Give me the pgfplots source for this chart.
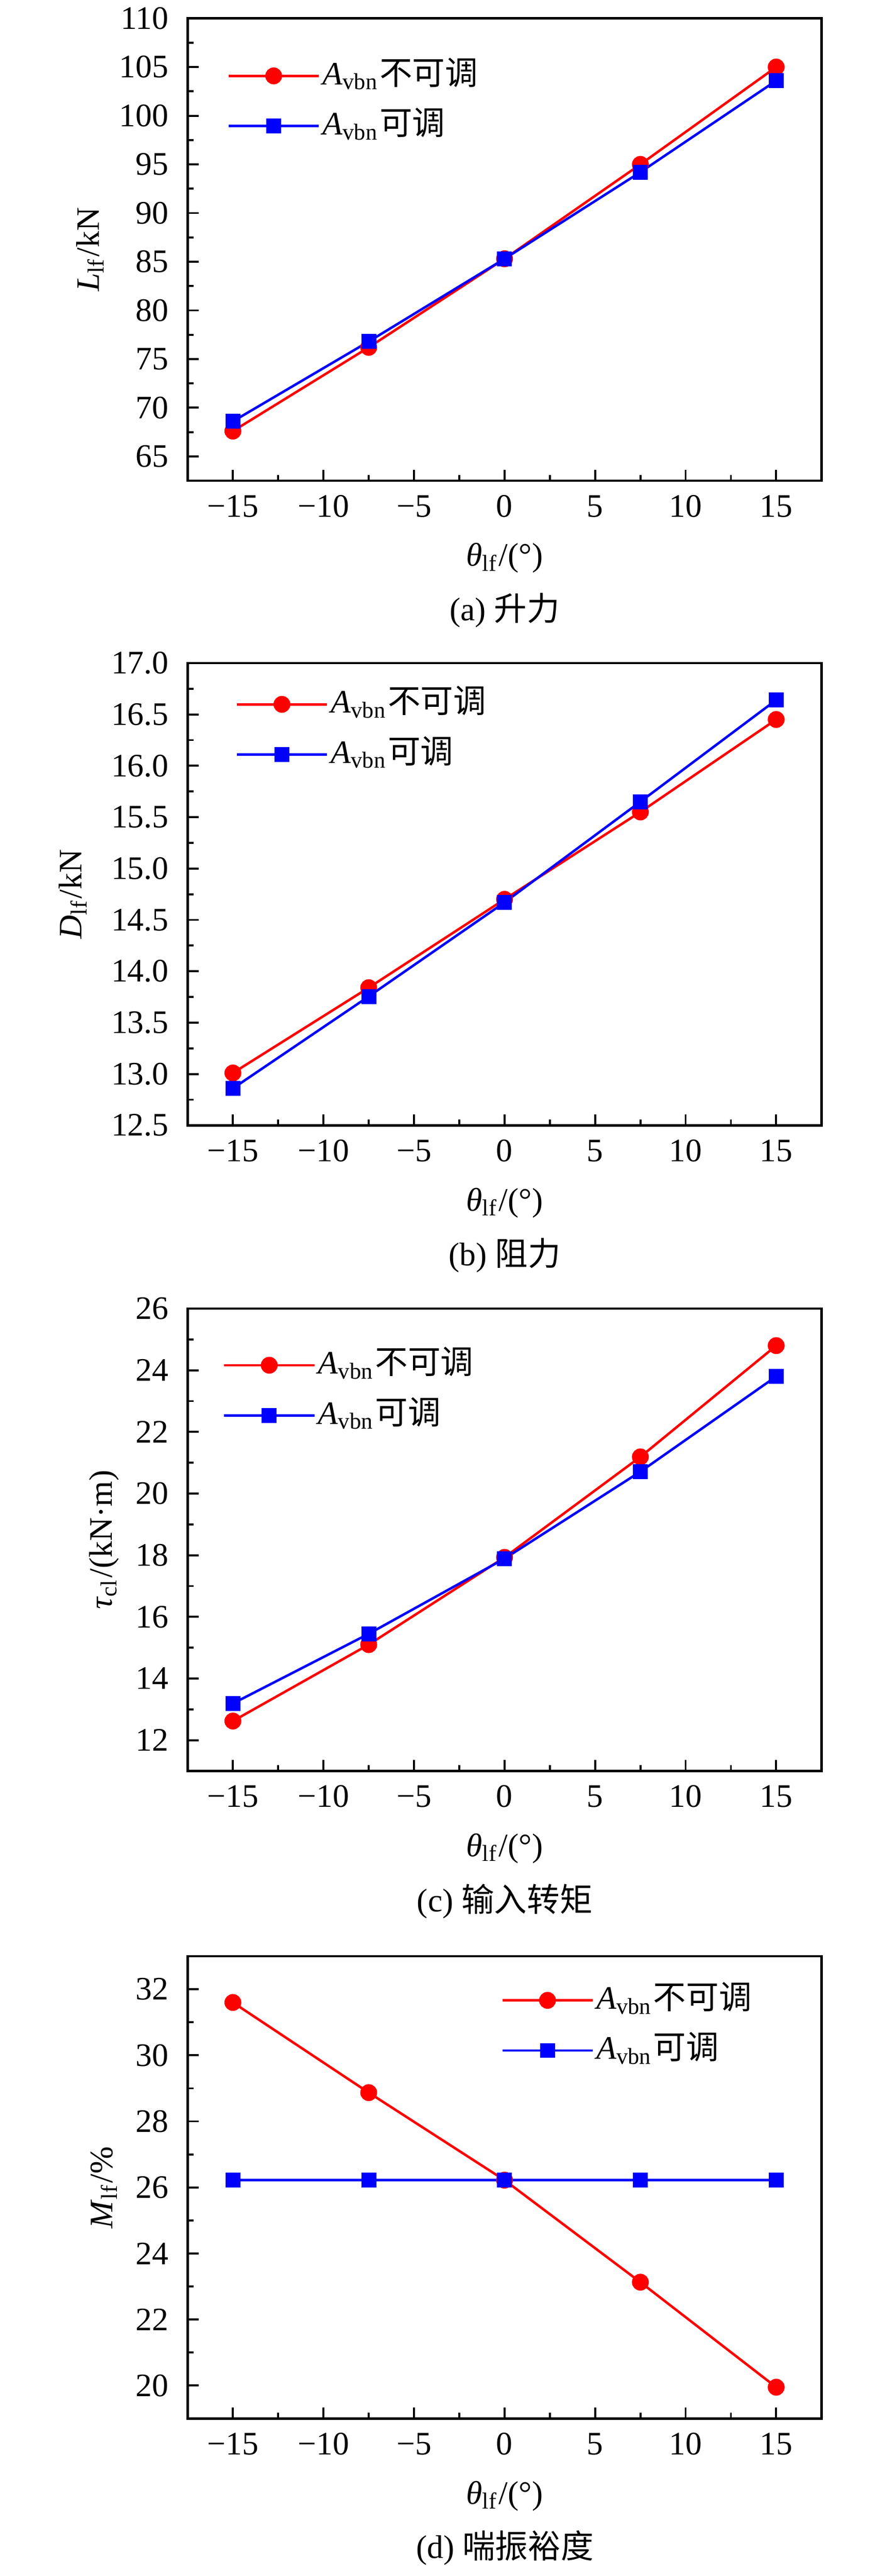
\documentclass[border=0pt]{standalone}
\usepackage{pgfplots}
\pgfplotsset{compat=1.18}
\usepackage{fontspec}
\setmainfont{Liberation Serif}
\newfontfamily\cjk{Noto Sans CJK SC}
\newcommand{\fs}{\fontsize{6.6}{7.9}\selectfont}
\definecolor{myred}{RGB}{255,0,0}
\definecolor{myblue}{RGB}{0,0,255}
\pgfplotsset{
  myaxis/.style={
    scale only axis, width=127.7pt, height=93.1pt,
    anchor=north west,
    xmin=-17.5, xmax=17.5,
    xtick={-15,-10,-5,0,5,10,15},
    xticklabels={−15,−10,−5,0,5,10,15},
    minor x tick num=1, minor y tick num=1,
    tick pos=left, tick align=inside,
    major tick length=2.2pt, minor tick length=1.2pt,
    axis line style={line width=0.45pt},
    every tick/.style={black, line width=0.4pt},
    /pgf/number format/assume math mode=true,
    tick label style={font=\fs},
    xticklabel style={anchor=base, yshift=-7.3pt},
    yticklabel style={xshift=-0.3pt},
    label style={font=\fs},
    xlabel={\textit{θ}\textsubscript{lf}/(°)},
    xlabel style={at={(axis description cs:0.5,0)}, anchor=base, yshift=-17.2pt},
    legend cell align=left,
    legend image code/.code={
      \draw[mark repeat=2,mark phase=2,##1] plot coordinates {(0pt,0pt) (9.1pt,0pt) (18.2pt,0pt)};
    },
    legend style={draw=none, fill=none, inner sep=0pt, row sep=2.6pt,
      anchor=north west,
      nodes={inner sep=0.5pt, text height=5pt, text depth=1.5pt, font=\fs}},
  },
  redline/.style={color=myred, line width=0.5pt, mark=*, mark size=1.45pt, mark options={solid, fill=myred, draw=myred}},
  blueline/.style={color=myblue, line width=0.5pt, mark=square*, mark size=1.25pt, mark options={solid, fill=myblue, draw=myblue}},
}
\begin{document}
\begin{tikzpicture}
\useasboundingbox (0,0) rectangle (177.2pt,-518.7pt);
% (a)
\begin{axis}[myaxis, at={(37.8pt,-3.7pt)},
  ymin=62.5, ymax=110, ytick={65,70,...,110},
  ylabel={\textit{L}\textsubscript{lf}/kN},
  ylabel style={at={(axis description cs:-0.154,0.5)}, anchor=center},
  legend style={at={(axis description cs:0.061,0.918)}}]
\addplot[redline] coordinates {(-15,67.6) (-7.5,76.2) (0,85.3) (7.5,95.0) (15,105.0)};
\addlegendentry{\textit{A}\textsubscript{vbn}{\cjk 不可调}}
\addplot[blueline] coordinates {(-15,68.6) (-7.5,76.8) (0,85.3) (7.5,94.2) (15,103.6)};
\addlegendentry{\textit{A}\textsubscript{vbn}{\cjk 可调}}
\end{axis}
% (b)
\begin{axis}[myaxis, at={(37.8pt,-133.5pt)},
  ymin=12.5, ymax=17, ytick={12.5,13,13.5,14,14.5,15,15.5,16,16.5,17},
  yticklabels={12.5,13.0,13.5,14.0,14.5,15.0,15.5,16.0,16.5,17.0},
  ylabel={\textit{D}\textsubscript{lf}/kN},
  ylabel style={at={(axis description cs:-0.181,0.5)}, anchor=center},
  legend style={at={(axis description cs:0.074,0.953)}}]
\addplot[redline] coordinates {(-15,13.01) (-7.5,13.84) (0,14.70) (7.5,15.55) (15,16.45)};
\addlegendentry{\textit{A}\textsubscript{vbn}{\cjk 不可调}}
\addplot[blueline] coordinates {(-15,12.86) (-7.5,13.755) (0,14.67) (7.5,15.65) (15,16.64)};
\addlegendentry{\textit{A}\textsubscript{vbn}{\cjk 可调}}
\end{axis}
% (c)
\begin{axis}[myaxis, at={(37.8pt,-263.5pt)},
  ymin=11, ymax=26, ytick={12,14,...,26},
  ylabel={\textit{τ}\textsubscript{cl}/(kN·m)},
  ylabel style={at={(axis description cs:-0.132,0.5)}, anchor=center},
  legend style={at={(axis description cs:0.054,0.92)}}]
\addplot[redline] coordinates {(-15,12.62) (-7.5,15.1) (0,17.93) (7.5,21.19) (15,24.8)};
\addlegendentry{\textit{A}\textsubscript{vbn}{\cjk 不可调}}
\addplot[blueline] coordinates {(-15,13.19) (-7.5,15.45) (0,17.89) (7.5,20.71) (15,23.8)};
\addlegendentry{\textit{A}\textsubscript{vbn}{\cjk 可调}}
\end{axis}
% (d)
\begin{axis}[myaxis, at={(37.8pt,-393.9pt)},
  ymin=19, ymax=33, ytick={20,22,...,32},
  ylabel={\textit{M}\textsubscript{lf}/\%},
  ylabel style={at={(axis description cs:-0.132,0.5)}, anchor=center},
  legend style={at={(axis description cs:0.493,0.947)}}]
\addplot[redline] coordinates {(-15,31.6) (-7.5,28.87) (0,26.22) (7.5,23.13) (15,19.95)};
\addlegendentry{\textit{A}\textsubscript{vbn}{\cjk 不可调}}
\addplot[blueline] coordinates {(-15,26.22) (-7.5,26.22) (0,26.22) (7.5,26.22) (15,26.22)};
\addlegendentry{\textit{A}\textsubscript{vbn}{\cjk 可调}}
\end{axis}
% captions
\node[anchor=base, font=\fs] at (101.7pt,-125.0pt) {(a) {\cjk 升力}};
\node[anchor=base, font=\fs] at (101.7pt,-254.8pt) {(b) {\cjk 阻力}};
\node[anchor=base, font=\fs] at (101.7pt,-384.9pt) {(c) {\cjk 输入转矩}};
\node[anchor=base, font=\fs] at (101.7pt,-515.1pt) {(d) {\cjk 喘振裕度}};
\end{tikzpicture}
\end{document}
